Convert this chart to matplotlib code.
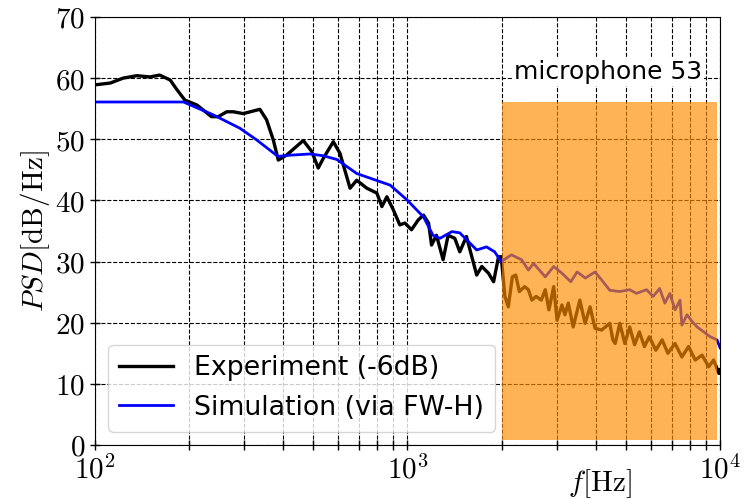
import matplotlib
matplotlib.use("Agg")
import matplotlib.pyplot as plt
from matplotlib.ticker import FixedLocator, NullFormatter

plt.rcParams["mathtext.fontset"] = "cm"
plt.rcParams["font.family"] = "DejaVu Sans"

# Experiment (-6dB)
EXP_F = [100, 112, 123, 136, 150, 161, 174, 183, 194, 212, 236, 248, 264, 277, 298,
         337, 354, 372, 386, 410, 464, 494, 518, 538, 579, 608, 655, 688, 741, 798,
         828, 859, 902, 945, 981, 1030, 1082, 1125, 1168, 1194, 1238, 1300, 1349, 1417,
         1470, 1544, 1665, 1729, 1816, 1886, 1956, 1995, 2050, 2102, 2165, 2220, 2280,
         2370, 2437, 2500, 2580, 2680, 2760, 2835, 2937, 3010, 3120, 3190, 3270, 3390,
         3560, 3700, 3840, 3980, 4180, 4440, 4540, 4620, 4780, 4960, 5140, 5330, 5520,
         5730, 5940, 6230, 6530, 6810, 7180, 7550, 7930, 8330, 8760, 9200, 9540, 9920, 10000]
EXP_PSD = [58.9, 59.2, 60.0, 60.4, 60.2, 60.5, 59.7, 58.1, 56.4, 55.6, 53.7, 53.7, 54.5, 54.5, 54.2,
           54.9, 53.2, 49.9, 46.6, 47.4, 49.8, 48.0, 45.3, 46.9, 49.6, 47.7, 42.0, 43.3, 42.0, 41.2,
           39.0, 40.6, 38.4, 36.0, 36.3, 35.2, 36.8, 37.6, 36.3, 32.7, 34.3, 30.3, 34.3, 33.8,
           31.6, 34.1, 27.8, 29.2, 28.1, 26.7, 30.8, 30.8, 24.3, 22.6, 27.5, 27.8, 25.1,
           25.9, 25.4, 23.7, 24.3, 23.7, 25.4, 22.1, 25.9, 20.4, 22.9, 21.3, 23.2, 19.3,
           23.7, 19.9, 22.6, 19.1, 18.8, 19.9, 17.2, 16.6, 19.9, 16.6, 19.3, 16.4, 18.5,
           16.1, 17.7, 15.5, 17.2, 15.0, 16.6, 14.4, 16.1, 13.9, 14.7, 12.8, 13.9, 11.7, 12.3]

# Simulation (via FW-H)
SIM_F = [100, 192, 239, 291, 329, 385, 421, 488, 538, 594, 688, 880, 996, 1125, 1207,
         1270, 1387, 1470, 1665, 1790, 1900, 1995, 2150, 2318, 2437, 2531, 2760, 2937,
         3120, 3330, 3490, 3710, 3980, 4180, 4440, 4780, 5140, 5400, 5820, 6110, 6410,
         6660, 6910, 7180, 7450, 7550, 7840, 8140, 8450, 8870, 9310, 9780, 10000]
SIM_PSD = [56.1, 56.1, 54.0, 51.8, 49.9, 47.2, 47.4, 47.6, 47.3, 46.7, 44.4, 42.5, 40.1, 37.3, 34.3,
           33.8, 34.9, 34.7, 31.9, 32.4, 31.6, 30.0, 31.1, 30.3, 28.6, 29.7, 27.5, 29.2,
           28.1, 26.7, 28.3, 27.3, 28.3, 27.0, 25.3, 25.1, 25.4, 24.8, 25.4, 24.3, 25.6,
           23.2, 24.8, 22.1, 23.7, 19.6, 21.3, 20.2, 19.3, 18.5, 17.7, 17.2, 15.9]

BAND_F = [2000, 9755]
BAND_PSD = [0.8, 56.1]
BAND_LABEL = "microphone 53"

X_TICKS = [1e2, 1e3, 1e4]
X_TICK_LABELS = [r"$10^{2}$", r"$10^{3}$", r"$10^{4}$"]
Y_TICKS = [0, 10, 20, 30, 40, 50, 60, 70]


def main() -> None:
    fig = plt.figure(figsize=(7.49, 5.0), dpi=100)
    ax = fig.add_axes([0.1268, 0.11, 0.8345, 0.856])

    ax.plot(EXP_F, EXP_PSD, color="black", lw=2.4, label="Experiment (-6dB)", zorder=2)
    ax.plot(SIM_F, SIM_PSD, color="blue", lw=2.0, label="Simulation (via FW-H)", zorder=2)

    ax.fill_between(BAND_F, BAND_PSD[0], BAND_PSD[1], color="darkorange", alpha=0.66,
                    lw=0, zorder=3)
    ax.text(4380, 61.0, BAND_LABEL, fontsize=18, ha="center", va="center", zorder=6,
            bbox=dict(facecolor="white", edgecolor="none", pad=1.5))

    ax.set_xscale("log")
    ax.set_xlim(1e2, 1e4)
    ax.set_ylim(0, 70)

    ax.xaxis.set_major_locator(FixedLocator(X_TICKS))
    ax.set_xticklabels(X_TICK_LABELS)
    ax.xaxis.set_minor_formatter(NullFormatter())
    ax.set_yticks(Y_TICKS)
    ax.set_yticklabels([f"${v}$" for v in Y_TICKS])

    ax.tick_params(which="both", direction="inout", length=7, width=1, labelsize=21)
    ax.tick_params(axis="x", which="major", pad=4)

    ax.grid(True, which="major", axis="both", color="black", ls="--", lw=0.8)
    ax.grid(True, which="minor", axis="x", color="black", ls="--", lw=0.8)

    ax.set_ylabel(r"$PSD[\mathrm{dB/Hz}]$", fontsize=21, labelpad=2)
    ax.set_xlabel(r"$f[\mathrm{Hz}]$", fontsize=21)
    ax.xaxis.set_label_coords(0.808, -0.052)

    leg = ax.legend(loc="lower left", fontsize=19.3, framealpha=0.8)
    leg.set_zorder(5)

    fig.savefig("out.png", dpi=100)
    plt.close(fig)


if __name__ == "__main__":
    main()
